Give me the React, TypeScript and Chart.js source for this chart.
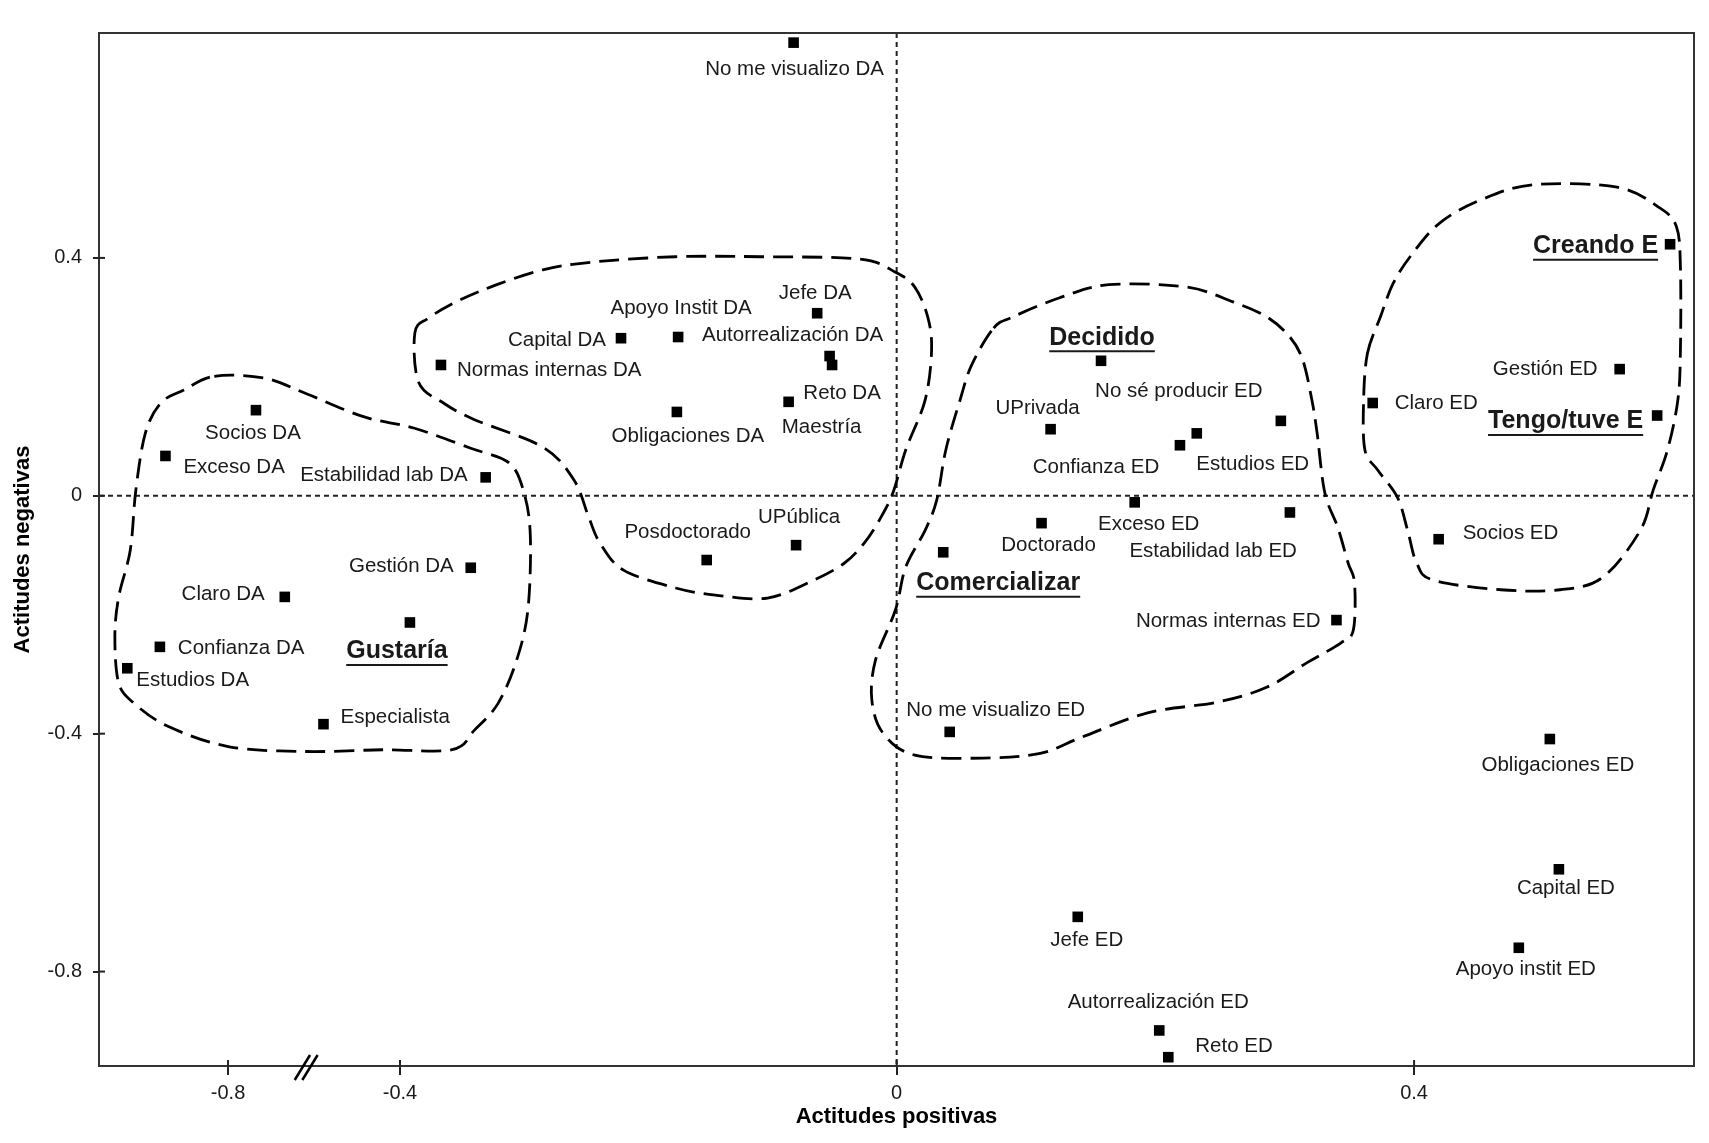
import React, { useEffect, useRef } from 'react';
import { Chart, LinearScale, registerables } from 'chart.js';

// ---------------- data ----------------
const CATEGORIES = [
  'Socios DA', 'Exceso DA', 'Estabilidad lab DA', 'Gestión DA', 'Claro DA', 'Gustaría',
  'Confianza DA', 'Estudios DA', 'Especialista', 'Normas internas DA', 'No me visualizo DA',
  'Jefe DA', 'Apoyo Instit DA', 'Capital DA', 'Autorrealización DA', 'Reto DA', 'Maestría',
  'Obligaciones DA', 'Posdoctorado', 'UPública', 'Comercializar', 'Doctorado', 'Exceso ED',
  'UPrivada', 'Decidido', 'Confianza ED', 'Estudios ED', 'No sé producir ED',
  'Estabilidad lab ED', 'Normas internas ED', 'No me visualizo ED', 'Claro ED', 'Gestión ED',
  'Tengo/tuve E', 'Socios ED', 'Obligaciones ED', 'Creando E', 'Capital ED', 'Apoyo instit ED',
  'Jefe ED', 'Autorrealización ED', 'Reto ED',
];
const X_VALUES = [
  -0.735, -0.946, -0.331, -0.343, -0.668, -0.392, -0.959, -1.035, -0.578, -0.367, -0.083,
  -0.064, -0.176, -0.222, -0.054, -0.052, -0.087, -0.177, -0.153, -0.081, 0.036, 0.112, 0.184,
  0.119, 0.158, 0.219, 0.232, 0.297, 0.304, 0.340, 0.041, 0.368, 0.559, 0.588, 0.419, 0.505,
  0.598, 0.512, 0.481, 0.140, 0.203, 0.210,
];
const Y_VALUES = [
  0.144, 0.067, 0.031, -0.121, -0.170, -0.213, -0.254, -0.290, -0.384, 0.220, 0.762, 0.307,
  0.267, 0.265, 0.235, 0.220, 0.158, 0.141, -0.108, -0.083, -0.095, -0.046, -0.011, 0.112,
  0.227, 0.085, 0.105, 0.126, -0.028, -0.209, -0.397, 0.156, 0.213, 0.135, -0.073, -0.409,
  0.423, -0.628, -0.760, -0.708, -0.899, -0.944,
];
const GROUP_CATEGORIES = ['Gustaría', 'Comercializar', 'Decidido', 'Tengo/tuve E', 'Creando E'];

const X_TICKS = [-0.8, -0.4, 0, 0.4];
const Y_TICKS = [-0.8, -0.4, 0, 0.4];
const X_TITLE = 'Actitudes positivas';
const Y_TITLE = 'Actitudes negativas';

// group outlines (data units)
const BLOB_GUSTARIA_X = [-0.832, -0.716, -0.619, -0.485, -0.389, -0.343, -0.312, -0.300, -0.295, -0.297, -0.306, -0.321, -0.340, -0.358, -0.440, -0.618, -0.797, -0.939, -1.019, -1.055, -1.064, -1.055, -1.028, -1.015, -0.993, -0.957, -0.903];
const BLOB_GUSTARIA_Y = [0.201, 0.198, 0.172, 0.133, 0.114, 0.080, 0.055, 0.004, -0.069, -0.192, -0.276, -0.349, -0.394, -0.427, -0.427, -0.430, -0.422, -0.388, -0.349, -0.315, -0.237, -0.170, -0.091, 0.010, 0.105, 0.156, 0.178];
const BLOB_DA_X = [-0.388, -0.377, -0.352, -0.322, -0.285, -0.245, -0.178, -0.110, -0.030, -0.001, 0.014, 0.024, 0.027, 0.022, 0.007, -0.003, -0.014, -0.026, -0.042, -0.067, -0.104, -0.146, -0.178, -0.220, -0.239, -0.248, -0.260, -0.285, -0.340, -0.365, -0.385];
const BLOB_DA_Y = [0.274, 0.299, 0.329, 0.355, 0.380, 0.393, 0.402, 0.402, 0.398, 0.376, 0.351, 0.301, 0.245, 0.161, 0.077, 0.005, -0.041, -0.079, -0.113, -0.142, -0.172, -0.167, -0.155, -0.125, -0.079, -0.036, 0.027, 0.082, 0.128, 0.156, 0.191];
const BLOB_DECIDIDO_X = [0.075, 0.090, 0.126, 0.164, 0.224, 0.260, 0.286, 0.304, 0.314, 0.321, 0.325, 0.331, 0.341, 0.349, 0.354, 0.353, 0.343, 0.317, 0.286, 0.248, 0.194, 0.143, 0.111, 0.067, 0.014, -0.011, -0.020, -0.017, -0.001, 0.007, 0.022, 0.031, 0.038, 0.049, 0.058];
const BLOB_DECIDIDO_Y = [0.282, 0.301, 0.333, 0.355, 0.351, 0.326, 0.301, 0.267, 0.228, 0.161, 0.106, 0.005, -0.053, -0.113, -0.147, -0.226, -0.248, -0.281, -0.322, -0.347, -0.365, -0.406, -0.433, -0.441, -0.436, -0.399, -0.343, -0.276, -0.192, -0.120, -0.058, -0.007, 0.077, 0.161, 0.220];
const BLOB_CREANDO_X = [0.364, 0.374, 0.384, 0.399, 0.420, 0.451, 0.492, 0.557, 0.590, 0.603, 0.606, 0.606, 0.604, 0.596, 0.585, 0.575, 0.546, 0.513, 0.467, 0.415, 0.402, 0.395, 0.387, 0.372, 0.362, 0.361];
const BLOB_CREANDO_Y = [0.240, 0.301, 0.358, 0.408, 0.459, 0.497, 0.523, 0.519, 0.484, 0.452, 0.385, 0.245, 0.161, 0.077, 0.010, -0.058, -0.137, -0.158, -0.158, -0.142, -0.113, -0.058, -0.002, 0.043, 0.077, 0.161];

// label placement per category: [anchor, dx, dy] (pixels from the marker)
const LABEL_PLACEMENT: [string, number, number][] = [
  ['c', -3, 23], ['l', 18, 11], ['r', -18, -2], ['r', -17, -1], ['r', -20, -3], ['c', -13, 29],
  ['l', 18, 1], ['l', 9, 12], ['l', 17, -7], ['l', 16, 5], ['c', 1, 27], ['c', -2, -20],
  ['c', 3, -29], ['r', -15, 2], ['c', -37, -21], ['c', 10, 28], ['c', 33, 26], ['c', 11, 24],
  ['c', -19, -28], ['c', 3, -28], ['l', -27, 31], ['c', 7, 22], ['c', 14, 22], ['c', -13, -21],
  ['c', 1, -23], ['c', -84, 22], ['c', 56, 31], ['c', -102, -30], ['r', 7, 39], ['r', -16, 1],
  ['c', 46, -22], ['l', 22, 0], ['r', -22, 0], ['r', -14, 6], ['l', 24, -6], ['c', 8, 26],
  ['r', -12, 2], ['c', 7, 19], ['c', 7, 22], ['c', 9, 23], ['c', -1, -28], ['l', 27, -11],
];

// ---------------- scale configuration ----------------
const X_MIN = -1.101;
const X_MAX = 0.6165;
const Y_MIN = -0.9588;
const Y_MAX = 0.7782;
const X_KNOT_VALUES = [X_MIN, -0.8, -0.4, 0, 0.4, X_MAX];
const X_KNOT_FRACTIONS = [0, 0.0809, 0.1887, 0.5001, 0.8245, 1];
const X_BREAK_VALUE = -0.616;

const FONT = '"Liberation Sans", Arial, sans-serif';
const INK = '#1a1a1a';

function interp(v: number, from: number[], to: number[]) {
  let i = 0;
  while (i < from.length - 2 && v > from[i + 1]) i++;
  const t = (v - from[i]) / (from[i + 1] - from[i]);
  return to[i] + t * (to[i + 1] - to[i]);
}

class BrokenLinearScale extends LinearScale {
  static id = 'brokenLinear';
  getPixelForValue(value: any) {
    if (value === null || value === undefined || isNaN(value)) return NaN;
    return this.getPixelForDecimal(interp(+value, X_KNOT_VALUES, X_KNOT_FRACTIONS));
  }
  getValueForPixel(pixel: number) {
    return interp(this.getDecimalForPixel(pixel), X_KNOT_FRACTIONS, X_KNOT_VALUES);
  }
}

Chart.register(...registerables, BrokenLinearScale as any);

function drawClosedSpline(ctx: CanvasRenderingContext2D, pts: { x: number; y: number }[]) {
  const n = pts.length;
  ctx.beginPath();
  ctx.moveTo(pts[0].x, pts[0].y);
  for (let i = 0; i < n; i++) {
    const p0 = pts[(i - 1 + n) % n];
    const p1 = pts[i];
    const p2 = pts[(i + 1) % n];
    const p3 = pts[(i + 2) % n];
    ctx.bezierCurveTo(
      p1.x + (p2.x - p0.x) / 6, p1.y + (p2.y - p0.y) / 6,
      p2.x - (p3.x - p1.x) / 6, p2.y - (p3.y - p1.y) / 6,
      p2.x, p2.y,
    );
  }
  ctx.closePath();
  ctx.stroke();
}

const decorPlugin = {
  id: 'decor',
  beforeDatasetsDraw(chart: any) {
    const { ctx, chartArea: a, scales } = chart;
    const xs = scales.x, ys = scales.y;
    ctx.save();
    // zero reference lines
    ctx.strokeStyle = '#222';
    ctx.lineWidth = 2;
    ctx.setLineDash([5, 4]);
    const x0 = xs.getPixelForValue(0);
    const y0 = ys.getPixelForValue(0);
    ctx.beginPath();
    ctx.moveTo(x0, a.top);
    ctx.lineTo(x0, a.bottom);
    ctx.moveTo(a.left, y0);
    ctx.lineTo(a.right, y0);
    ctx.stroke();
    // group outlines
    ctx.strokeStyle = '#000';
    ctx.lineWidth = 2.8;
    ctx.setLineDash([20, 9]);
    const blobs = [
      [BLOB_GUSTARIA_X, BLOB_GUSTARIA_Y],
      [BLOB_DA_X, BLOB_DA_Y],
      [BLOB_DECIDIDO_X, BLOB_DECIDIDO_Y],
      [BLOB_CREANDO_X, BLOB_CREANDO_Y],
    ];
    blobs.forEach(([bx, by]) => {
      const pts = bx.map((v, i) => ({ x: xs.getPixelForValue(v), y: ys.getPixelForValue(by[i]) }));
      drawClosedSpline(ctx, pts);
    });
    ctx.restore();
  },
  afterDatasetsDraw(chart: any) {
    const { ctx } = chart;
    const meta = chart.getDatasetMeta(0);
    ctx.save();
    ctx.fillStyle = INK;
    ctx.strokeStyle = INK;
    ctx.textBaseline = 'middle';
    meta.data.forEach((pt: any, i: number) => {
      const name = CATEGORIES[i];
      const [anchor, dx, dy] = LABEL_PLACEMENT[i];
      const bold = GROUP_CATEGORIES.includes(name);
      ctx.font = bold ? `bold 25px ${FONT}` : `20.5px ${FONT}`;
      const w = ctx.measureText(name).width;
      let left = pt.x + dx;
      if (anchor === 'c') left = pt.x + dx - w / 2;
      else if (anchor === 'r') left = pt.x + dx - w;
      const y = pt.y + dy;
      ctx.textAlign = 'left';
      ctx.fillText(name, left, y);
      if (bold) {
        ctx.lineWidth = 2;
        ctx.beginPath();
        ctx.moveTo(left, y + 13.5);
        ctx.lineTo(left + w, y + 13.5);
        ctx.stroke();
      }
    });
    ctx.restore();
  },
  afterDraw(chart: any) {
    const { ctx, chartArea: a, scales } = chart;
    ctx.save();
    ctx.strokeStyle = '#333';
    ctx.lineWidth = 2;
    ctx.strokeRect(a.left, a.top, a.right - a.left, a.bottom - a.top);
    // inner parts of tick marks
    ctx.strokeStyle = '#222';
    scales.x.ticks.forEach((t: any) => {
      const px = scales.x.getPixelForValue(t.value);
      ctx.beginPath();
      ctx.moveTo(px, a.bottom);
      ctx.lineTo(px, a.bottom - 6);
      ctx.stroke();
    });
    scales.y.ticks.forEach((t: any) => {
      const py = scales.y.getPixelForValue(t.value);
      ctx.beginPath();
      ctx.moveTo(a.left, py);
      ctx.lineTo(a.left + 6, py);
      ctx.stroke();
    });
    // axis break mark
    const bx = scales.x.getPixelForValue(X_BREAK_VALUE);
    ctx.strokeStyle = '#000';
    ctx.lineWidth = 2.5;
    [-3.8, 3.8].forEach((off) => {
      ctx.beginPath();
      ctx.moveTo(bx + off - 8.6, a.bottom + 14);
      ctx.lineTo(bx + off + 6.7, a.bottom - 11);
      ctx.stroke();
    });
    ctx.restore();
  },
};

export default function App() {
  const canvasRef = useRef<HTMLCanvasElement | null>(null);

  useEffect(() => {
    const canvas = canvasRef.current;
    if (!canvas) return;
    const tickFont = { family: FONT, size: 20 };
    const chart = new Chart(canvas, {
      type: 'scatter',
      data: {
        datasets: [
          {
            label: 'Categorías',
            data: CATEGORIES.map((_, i) => ({ x: X_VALUES[i], y: Y_VALUES[i] })),
            pointStyle: 'rect',
            pointRadius: 7.5,
            pointHoverRadius: 7.5,
            backgroundColor: '#000',
            borderColor: '#000',
            borderWidth: 0,
          },
        ],
      },
      options: {
        responsive: false,
        devicePixelRatio: 1,
        animation: false,
        events: [],
        layout: { padding: { top: 33, right: 15, left: 0, bottom: 0 } },
        plugins: { legend: { display: false }, tooltip: { enabled: false } },
        scales: {
          x: {
            type: 'brokenLinear' as any,
            min: X_MIN,
            max: X_MAX,
            afterBuildTicks: (s: any) => { s.ticks = X_TICKS.map((v) => ({ value: v })); },
            afterFit: (s: any) => { s.height = 77; },
            ticks: {
              autoSkip: false,
              maxRotation: 0,
              padding: 6,
              color: INK,
              font: tickFont,
              callback: (v: any) => String(+(+v).toFixed(2)),
            },
            grid: { display: true, drawOnChartArea: false, drawTicks: true, tickLength: 9, color: '#222', lineWidth: 2 },
            border: { display: false },
            title: {
              display: true,
              text: X_TITLE,
              color: '#000',
              font: { family: FONT, size: 22, weight: 'bold' },
              padding: { top: 0, bottom: 13 },
            },
          } as any,
          y: {
            type: 'linear',
            min: Y_MIN,
            max: Y_MAX,
            afterBuildTicks: (s: any) => { s.ticks = Y_TICKS.map((v) => ({ value: v })); },
            afterFit: (s: any) => { s.width = 99; },
            ticks: {
              autoSkip: false,
              padding: 11,
              color: INK,
              font: tickFont,
              callback: (v: any) => String(+(+v).toFixed(2)),
            },
            grid: { display: true, drawOnChartArea: false, drawTicks: true, tickLength: 6, color: '#222', lineWidth: 2 },
            border: { display: false },
            title: {
              display: true,
              text: Y_TITLE,
              color: '#000',
              font: { family: FONT, size: 22, weight: 'bold' },
              padding: { top: 10, bottom: 0 },
            },
          },
        },
      },
      plugins: [decorPlugin],
    });
    return () => chart.destroy();
  }, []);

  return (
    <div style={{ position: 'fixed', left: 0, top: 0, width: 1709, height: 1143, background: '#fff' }}>
      <canvas ref={canvasRef} width={1709} height={1143} style={{ display: 'block', width: 1709, height: 1143 }} />
    </div>
  );
}
